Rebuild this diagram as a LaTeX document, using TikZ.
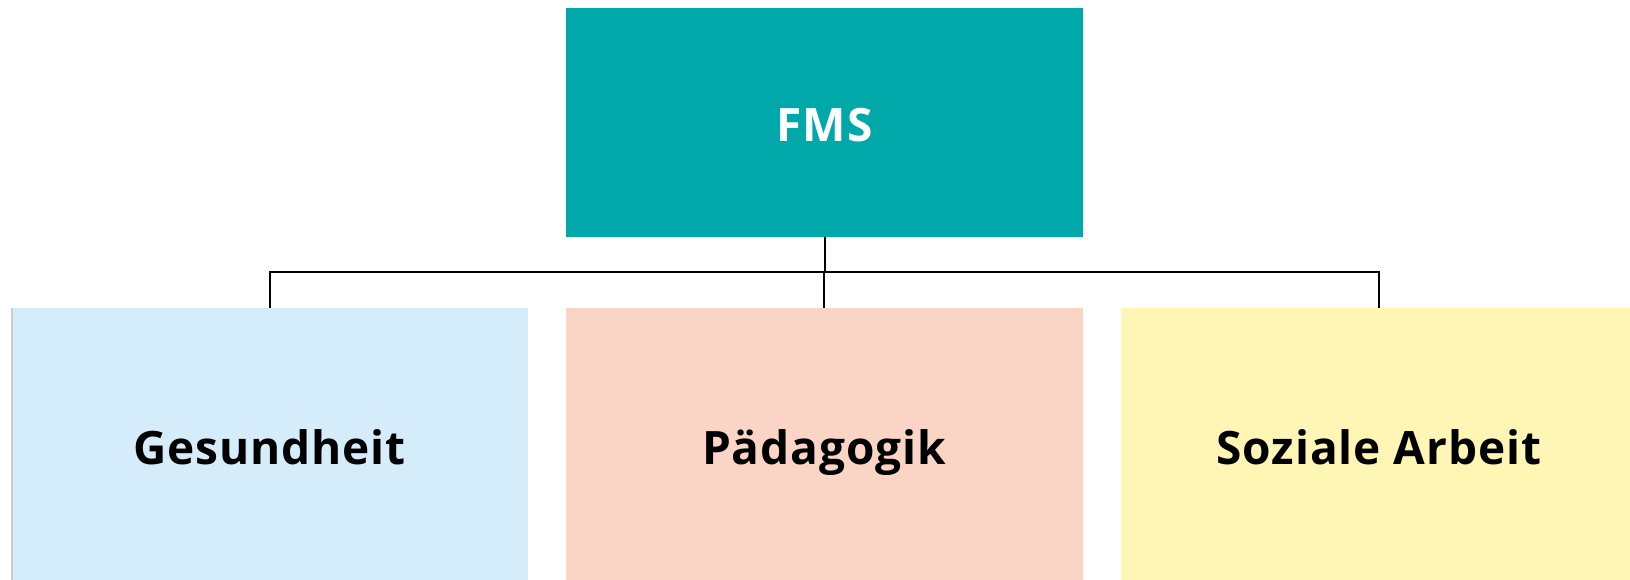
\documentclass[tikz,border=0pt]{standalone}
\usepackage{fontspec}
\setmainfont{Open Sans}[LetterSpace=2]
\definecolor{teal1}{HTML}{00A8A9}
\definecolor{blue1}{HTML}{D5ECFB}
\definecolor{peach1}{HTML}{FAD5C5}
\definecolor{yellow1}{HTML}{FFF6B5}
\begin{document}
\begin{tikzpicture}[x=1pt,y=-1pt,
  box/.style={inner sep=0pt,minimum width=517pt,minimum height=272pt,text height=40pt,text depth=0pt,font=\fontsize{46}{50}\bfseries\selectfont},
  link/.style={draw=black,line width=2pt}]
\useasboundingbox (0,0) rectangle (1630,580);
\begin{scope}
\clip (0,0) rectangle (1630,580);
\node[box,fill=teal1,text=white,minimum height=229pt,text height=38pt] (fms) at (824.5,122.5) {FMS};
\node[box,fill=blue1] (ges) at (269.5,444) {Gesundheit};
\node[box,fill=peach1] (pad) at (824,444) {Pädagogik};
\node[box,fill=yellow1] (soz) at (1379,444) {Soziale Arbeit};
\end{scope}
\draw[gray!40,line width=2pt] ([xshift=1pt]ges.north west) -- ([xshift=1pt]ges.south west);
\coordinate (bar) at (0,271.5);
\draw[link] (fms.south) -- (fms.south |- bar);
\draw[link] (ges.north) -- (ges.north |- bar) -- (soz.north |- bar) -- (soz.north);
\draw[link] (pad.north) -- (pad.north |- bar);
\end{tikzpicture}
\end{document}
